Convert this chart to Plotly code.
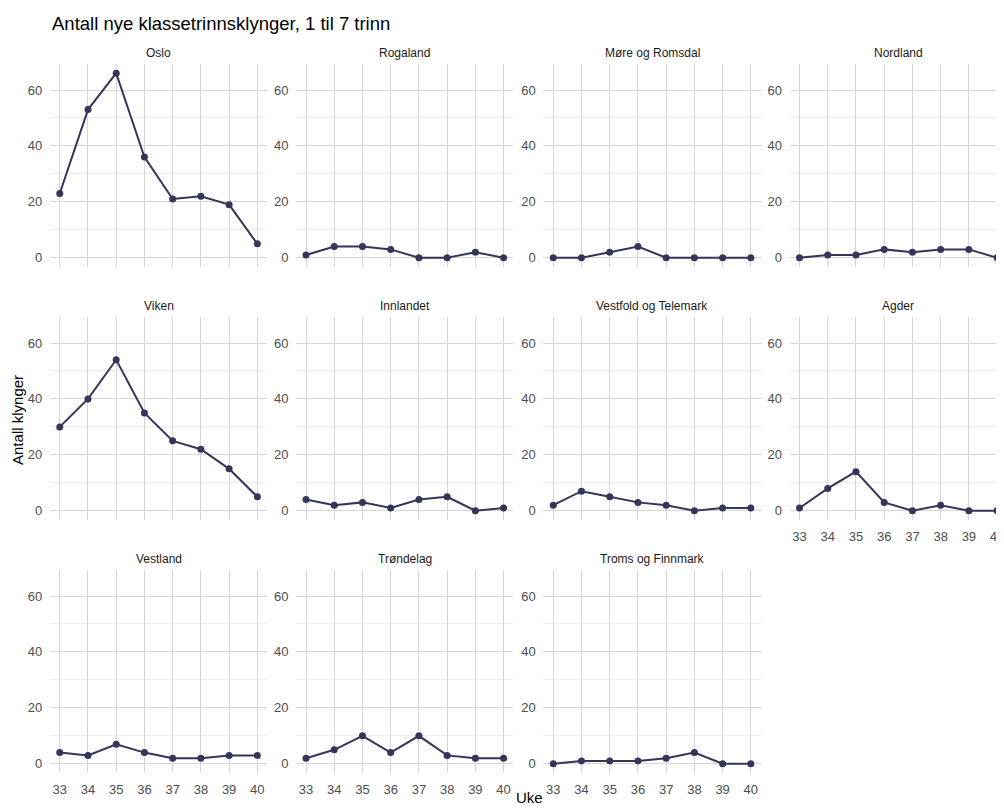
import plotly.graph_objects as go

weeks = [33, 34, 35, 36, 37, 38, 39, 40]
regions = ["Oslo", "Rogaland", "Møre og Romsdal", "Nordland",
           "Viken", "Innlandet", "Vestfold og Telemark", "Agder",
           "Vestland", "Trøndelag", "Troms og Finnmark"]
oslo = [23, 53, 66, 36, 21, 22, 19, 5]
rogaland = [1, 4, 4, 3, 0, 0, 2, 0]
more_romsdal = [0, 0, 2, 4, 0, 0, 0, 0]
nordland = [0, 1, 1, 3, 2, 3, 3, 0]
viken = [30, 40, 54, 35, 25, 22, 15, 5]
innlandet = [4, 2, 3, 1, 4, 5, 0, 1]
vestfold_telemark = [2, 7, 5, 3, 2, 0, 1, 1]
agder = [1, 8, 14, 3, 0, 2, 0, 0]
vestland = [4, 3, 7, 4, 2, 2, 3, 3]
trondelag = [2, 5, 10, 4, 10, 3, 2, 2]
troms_finnmark = [0, 1, 1, 1, 2, 4, 0, 0]
series = [oslo, rogaland, more_romsdal, nordland, viken, innlandet,
          vestfold_telemark, agder, vestland, trondelag, troms_finnmark]
y_ticks = [0, 20, 40, 60]

# page body has an 8px default margin; figure drawn in the remaining area
OFF = 8
W, H = 1004 - OFF, 808 - OFF
FONT = "Liberation Sans, Arial, sans-serif"
LINE = "#35355a"
TICKC = "#4d4d4d"
col_px = [(50, 268), (297, 515), (545, 764), (792, 1004)]
row_px = [(64, 267), (317, 520), (570, 773)]
px_per_unit = (268 - 50) / 7.7
x0 = 32.65


def fx(px):
    return (px - OFF) / W


def fy(px):
    return 1 - (px - OFF) / H


fig = go.Figure()
layout = dict(width=W, height=H, margin=dict(l=0, r=0, t=0, b=0),
              paper_bgcolor="white", plot_bgcolor="white", showlegend=False,
              font=dict(family=FONT))
annotations = []
for i, (name, vals) in enumerate(zip(regions, series)):
    r, c = divmod(i, 4)
    n = i + 1
    sfx = "" if n == 1 else str(n)
    xl, xr = col_px[c]
    yt, yb = row_px[r]
    x1 = x0 + (xr - xl) / px_per_unit
    show_x = (r == 2) or (r == 1 and c == 3)
    fig.add_trace(go.Scatter(x=weeks, y=vals, mode="lines+markers",
                             line=dict(color=LINE, width=2),
                             marker=dict(color=LINE, size=7),
                             xaxis="x" + sfx, yaxis="y" + sfx))
    layout["xaxis" + sfx] = dict(domain=[fx(xl), min(fx(xr), 1.0)], range=[x0, x1],
                                 anchor="y" + sfx,
                                 tickvals=weeks, showticklabels=show_x,
                                 ticklabeloverflow="allow",
                                 ticks="outside", ticklen=4, tickcolor="rgba(0,0,0,0)",
                                 tickfont=dict(size=13, color=TICKC),
                                 showgrid=True, gridcolor="#d6d6d6", gridwidth=1,
                                 zeroline=False, showline=False)
    layout["yaxis" + sfx] = dict(domain=[fy(yb), fy(yt)], range=[-3.3, 69.3],
                                 anchor="x" + sfx,
                                 tickvals=y_ticks,
                                 ticks="outside", ticklen=4, tickcolor="rgba(0,0,0,0)",
                                 tickfont=dict(size=13, color=TICKC),
                                 showgrid=True, gridcolor="#d6d6d6", gridwidth=1,
                                 minor=dict(dtick=10, tick0=0, showgrid=True,
                                            gridcolor="#eeeeee", gridwidth=1),
                                 zeroline=False, showline=False)
    cx = xl + 7.7 * px_per_unit / 2
    annotations.append(dict(text=name, x=fx(cx), y=fy(yt - 11),
                            xref="paper", yref="paper", showarrow=False,
                            xanchor="center", yanchor="middle",
                            font=dict(size=12, color="#1a1a1a", family=FONT)))

annotations.append(dict(text="Antall nye klassetrinnsklynger, 1 til 7 trinn",
                        x=fx(50), y=fy(23), xref="paper", yref="paper",
                        showarrow=False, xanchor="left", yanchor="middle",
                        font=dict(size=18.5, color="black", family=FONT)))
annotations.append(dict(text="Antall klynger", x=fx(17), y=fy(420),
                        xref="paper", yref="paper", showarrow=False,
                        textangle=-90, xanchor="center", yanchor="middle",
                        font=dict(size=15, color="black", family=FONT)))
annotations.append(dict(text="Uke", x=fx(531), y=fy(797),
                        xref="paper", yref="paper", showarrow=False,
                        xanchor="center", yanchor="middle",
                        font=dict(size=15, color="black", family=FONT)))
layout["annotations"] = annotations
fig.update_layout(**layout)
fig.write_html("out.html")
